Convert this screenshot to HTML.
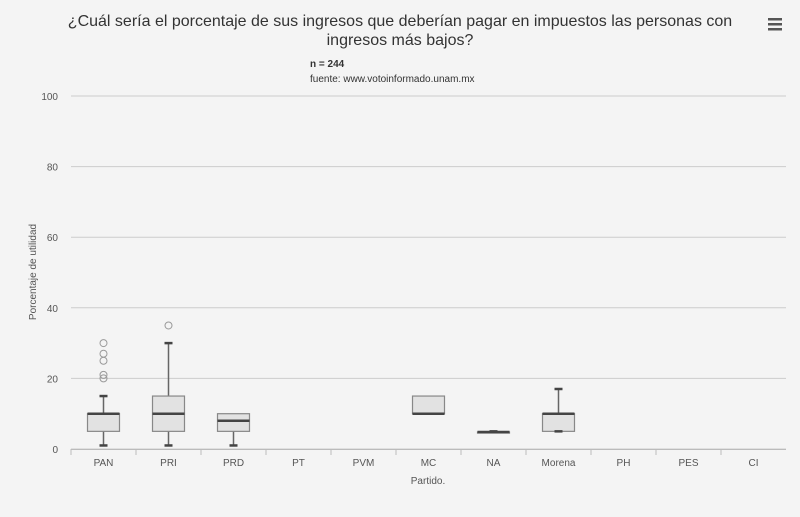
<!DOCTYPE html>
<html><head><meta charset="utf-8"><style>
body{margin:0;background:#f4f4f4;font-family:"Liberation Sans",sans-serif;}
svg{display:block}
</style></head><body>
<svg width="800" height="517" id="c">
<rect width="800" height="517" fill="#f4f4f4"/>
<text x="400" y="26" text-anchor="middle" font-size="16" fill="#333">¿Cuál sería el porcentaje de sus ingresos que deberían pagar en impuestos las personas con</text>
<text x="400" y="45" text-anchor="middle" font-size="16" fill="#333">ingresos más bajos?</text>
<text x="310" y="67" font-size="10" font-weight="bold" fill="#333">n = 244</text>
<text x="310" y="82" font-size="10" fill="#333">fuente: www.votoinformado.unam.mx</text>
<g><rect x="768" y="18" width="14" height="2.5" fill="#555"/><rect x="768" y="23" width="14" height="2.5" fill="#555"/><rect x="768" y="28" width="14" height="2.5" fill="#555"/></g>
<text x="36" y="272" font-size="10" fill="#555" text-anchor="middle" transform="rotate(-90 36 272)">Porcentaje de utilidad</text>
<text x="428" y="484" font-size="10" fill="#555" text-anchor="middle">Partido.</text>
<g id="grid"></g><g id="marks"></g>
</svg>
<script>
const categories=["PAN","PRI","PRD","PT","PVM","MC","NA","Morena","PH","PES","CI"];
const lows=[1,1,1,null,null,10,4.5,5,null,null,null];
const q1s=[5,5,5,null,null,10,4.5,5,null,null,null];
const medians=[10,10,8,null,null,10,4.8,10,null,null,null];
const q3s=[10,15,10,null,null,15,4.8,10,null,null,null];
const highs=[15,30,10,null,null,15,5,17,null,null,null];
const outlierCats=[0,0,0,0,0,1];
const outlierVals=[20,21,25,27,30,35];
const yTicks=[0,20,40,60,80,100];
const X0=71,CW=65,Y0=449,YS=3.53;
const y=v=>Y0-v*YS, xc=i=>X0+CW*i+CW/2;
const ns="http://www.w3.org/2000/svg";
function mk(t,a,p){const e=document.createElementNS(ns,t);for(const k in a)e.setAttribute(k,a[k]);p.appendChild(e);return e;}
const g=document.getElementById('grid'),m=document.getElementById('marks');
yTicks.forEach(v=>{
 const l=mk('line',{x1:X0,x2:786,y1:y(v),y2:y(v),stroke:'#ccc'},g);
 
 
 const t=mk('text',{x:58,y:y(v)+4,'text-anchor':'end','font-size':10,fill:'#555'},g);t.textContent=v;
 
 
});
const ax=mk('line',{x1:X0,x2:786,y1:Y0+0.5,y2:Y0+0.5,stroke:'#bbb'},g);


categories.forEach((c,i)=>{
 const tk=mk('line',{x1:X0+CW*i,x2:X0+CW*i,y1:Y0,y2:Y0+6,stroke:'#bbb'},g);
 
 
 const t=mk('text',{x:xc(i),y:Y0+17,'text-anchor':'middle','font-size':10,fill:'#555'},g);t.textContent=c;
 
 
 if(lows[i]==null)return;
 const bg=mk('g',{},m);
 
 
 const cx=xc(i),w=32;
 mk('line',{x1:cx,x2:cx,y1:y(highs[i]),y2:y(q3s[i]),stroke:'#666','stroke-width':1.5},bg);
 mk('line',{x1:cx,x2:cx,y1:y(q1s[i]),y2:y(lows[i]),stroke:'#666','stroke-width':1.5},bg);
 mk('rect',{x:cx-w/2,y:y(q3s[i]),width:w,height:Math.max(y(q1s[i])-y(q3s[i]),0.5),fill:'#e2e2e2',stroke:'#888','stroke-width':1.2},bg);
 mk('line',{x1:cx-w/2,x2:cx+w/2,y1:y(medians[i]),y2:y(medians[i]),stroke:'#444','stroke-width':2.5},bg);
 if(highs[i]!==q3s[i])mk('line',{x1:cx-4,x2:cx+4,y1:y(highs[i]),y2:y(highs[i]),stroke:'#444','stroke-width':2.5},bg);
 if(lows[i]!==q1s[i]||c==='Morena')mk('line',{x1:cx-4,x2:cx+4,y1:y(lows[i]),y2:y(lows[i]),stroke:'#444','stroke-width':2.5},bg);
});
outlierVals.forEach((v,k)=>{
 const o=mk('circle',{cx:xc(outlierCats[k]),cy:y(v),r:3.5,fill:'none',stroke:'#999'},m);
 
 
});
</script>
</body></html>
